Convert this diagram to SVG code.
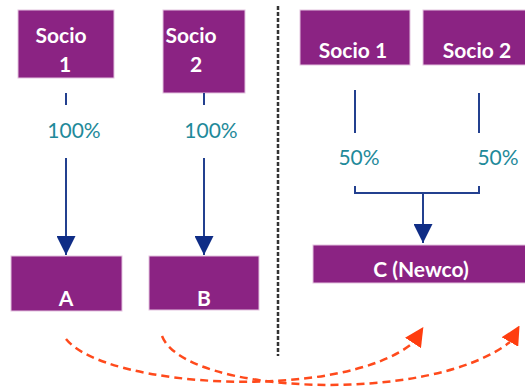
<svg xmlns="http://www.w3.org/2000/svg" width="525" height="388" viewBox="0 0 525 388">
<style>
.box{fill:#8b2383;stroke:#e3c3df;stroke-width:1}
.lbl{font-family:Lato,"Liberation Sans",Arial,sans-serif;font-weight:bold;font-size:21px;fill:#ffffff;text-anchor:middle}
.pct{font-family:Lato,"Liberation Sans",Arial,sans-serif;font-size:21px;fill:#1f8a9a;text-anchor:middle}
.ln{stroke:#23408f;stroke-width:2;fill:none}
.dash{stroke:#ff4a1c;stroke-width:2.5;fill:none;stroke-dasharray:8 5}
</style>
<defs>
<marker id="ab" viewBox="0 0 10 10" refX="10" refY="5" markerWidth="19" markerHeight="19" markerUnits="userSpaceOnUse" orient="auto">
<path d="M0,0 L10,5 L0,10 z" fill="#0f2d86"/>
</marker>
<marker id="ao1" viewBox="0 0 10 10" refX="0" refY="5" markerWidth="19" markerHeight="19" markerUnits="userSpaceOnUse" orient="-57">
<path d="M0,0 L10,5 L0,10 z" fill="#ff3d0f"/>
</marker>
<marker id="ao2" viewBox="0 0 10 10" refX="0" refY="5" markerWidth="19" markerHeight="19" markerUnits="userSpaceOnUse" orient="-60">
<path d="M0,0 L10,5 L0,10 z" fill="#ff3d0f"/>
</marker>
</defs>
<line x1="278" y1="6" x2="278" y2="356" stroke="#333333" stroke-width="2.5" stroke-dasharray="4 2"/>
<g id="socio1-left">
<rect class="box" x="18" y="10" width="96" height="68"/>
<text class="lbl" x="61" y="43">Socio</text>
<text class="lbl" x="65" y="72">1</text>
</g>
<g id="socio2-left">
<rect class="box" x="163" y="10" width="82" height="83"/>
<text class="lbl" x="191" y="43">Socio</text>
<text class="lbl" x="196" y="72">2</text>
</g>
<g id="A">
<rect class="box" x="11" y="256" width="111" height="55"/>
<text class="lbl" x="66" y="306">A</text>
</g>
<g id="B">
<rect class="box" x="149" y="256" width="110" height="54"/>
<text class="lbl" x="204" y="306">B</text>
</g>
<g id="socio1-right">
<rect class="box" x="300" y="10" width="110" height="55"/>
<text class="lbl" x="353" y="58">Socio 1</text>
</g>
<g id="socio2-right">
<rect class="box" x="423" y="10" width="108" height="55"/>
<text class="lbl" x="477" y="58">Socio 2</text>
</g>
<g id="C">
<rect class="box" x="313" y="245" width="217" height="38"/>
<text class="lbl" x="421" y="277">C (Newco)</text>
</g>
<g id="connectors">
<line class="ln" x1="66" y1="93" x2="66" y2="105"/>
<line class="ln" x1="66" y1="158" x2="66" y2="255" marker-end="url(#ab)"/>
<line class="ln" x1="204" y1="93" x2="204" y2="105"/>
<line class="ln" x1="204" y1="158" x2="204" y2="255" marker-end="url(#ab)"/>
<line class="ln" x1="355" y1="90" x2="355" y2="133"/>
<line class="ln" x1="479" y1="93" x2="479" y2="133"/>
<path class="ln" d="M355,186 V193 H479 V186"/>
<line class="ln" x1="423" y1="193" x2="423" y2="243" marker-end="url(#ab)"/>
<path class="dash" d="M66,339 C105,388 340,402 413,343" marker-end="url(#ao1)"/>
<path class="dash" d="M162,336 C185,395 430,405 510,342" marker-end="url(#ao2)"/>
</g>
<text class="pct" x="74" y="138">100%</text>
<text class="pct" x="211" y="138">100%</text>
<text class="pct" x="359" y="165">50%</text>
<text class="pct" x="498" y="165">50%</text>
</svg>
